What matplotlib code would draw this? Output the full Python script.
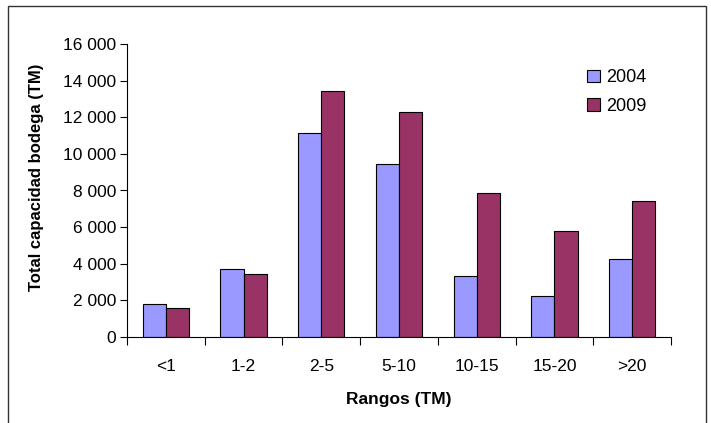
import matplotlib
matplotlib.use("Agg")
import matplotlib.pyplot as plt
import numpy as np
from matplotlib.patches import Rectangle

plt.rcParams['font.family'] = ['Liberation Sans', 'DejaVu Sans']

# Datos
rangos = ["<1", "1-2", "2-5", "5-10", "10-15", "15-20", ">20"]
cap_2004 = [1800, 3720, 11150, 9450, 3350, 2220, 4280]
cap_2009 = [1600, 3440, 13440, 12280, 7850, 5810, 7430]
anios = ["2004", "2009"]
colores = ["#9999FF", "#993366"]

fig = plt.figure(figsize=(7.11, 4.23), dpi=100)
ax = fig.add_axes([127 / 711, 1 - 337 / 423, (671 - 127) / 711, (337 - 44) / 423])

x = np.arange(len(rangos))
ancho = 0.297
ax.bar(x - ancho / 2, cap_2004, ancho, color=colores[0], edgecolor="black", linewidth=0.8, label=anios[0])
ax.bar(x + ancho / 2, cap_2009, ancho, color=colores[1], edgecolor="black", linewidth=0.8, label=anios[1])

ax.set_xlim(-0.5, len(rangos) - 0.5)
ax.set_ylim(0, 16000)
ax.set_yticks(np.arange(0, 16001, 2000))
ax.set_yticklabels([f"{v:,}".replace(",", " ") for v in range(0, 16001, 2000)])

# ticks en los bordes de categoría, etiquetas centradas
ax.set_xticks(np.arange(-0.5, len(rangos), 1))
ax.set_xticklabels([])
ax.set_xticks(x, minor=True)
ax.set_xticklabels(rangos, minor=True)
ax.tick_params(axis="x", which="minor", length=0, pad=16, labelsize=12.5)
ax.tick_params(axis="x", which="major", length=6, direction="out")
ax.tick_params(axis="y", length=5, labelsize=12.5, pad=3)

for s in ["top", "right"]:
    ax.spines[s].set_visible(False)

ax.set_ylabel("Total capacidad bodega (TM)", fontsize=12, fontweight="bold", va="center")
ax.set_xlabel("Rangos (TM)", fontsize=12.5, fontweight="bold", va="center")
ax.yaxis.set_label_coords(-0.167, 0.546)
ax.xaxis.set_label_coords(0.5, -0.215)

ax.legend(loc="upper left", bbox_to_anchor=(0.829, 0.945), frameon=False, fontsize=13,
          borderpad=0, handlelength=0.7, handleheight=0.7, handletextpad=0.35, labelspacing=0.65)

# marco exterior del gráfico
marco = Rectangle((8 / 711, -0.1), (706 - 8) / 711, 1.1 - 6 / 423, transform=fig.transFigure,
                  fill=False, edgecolor="#333333", linewidth=1)
fig.patches.append(marco)

fig.savefig("out.png", dpi=100)
